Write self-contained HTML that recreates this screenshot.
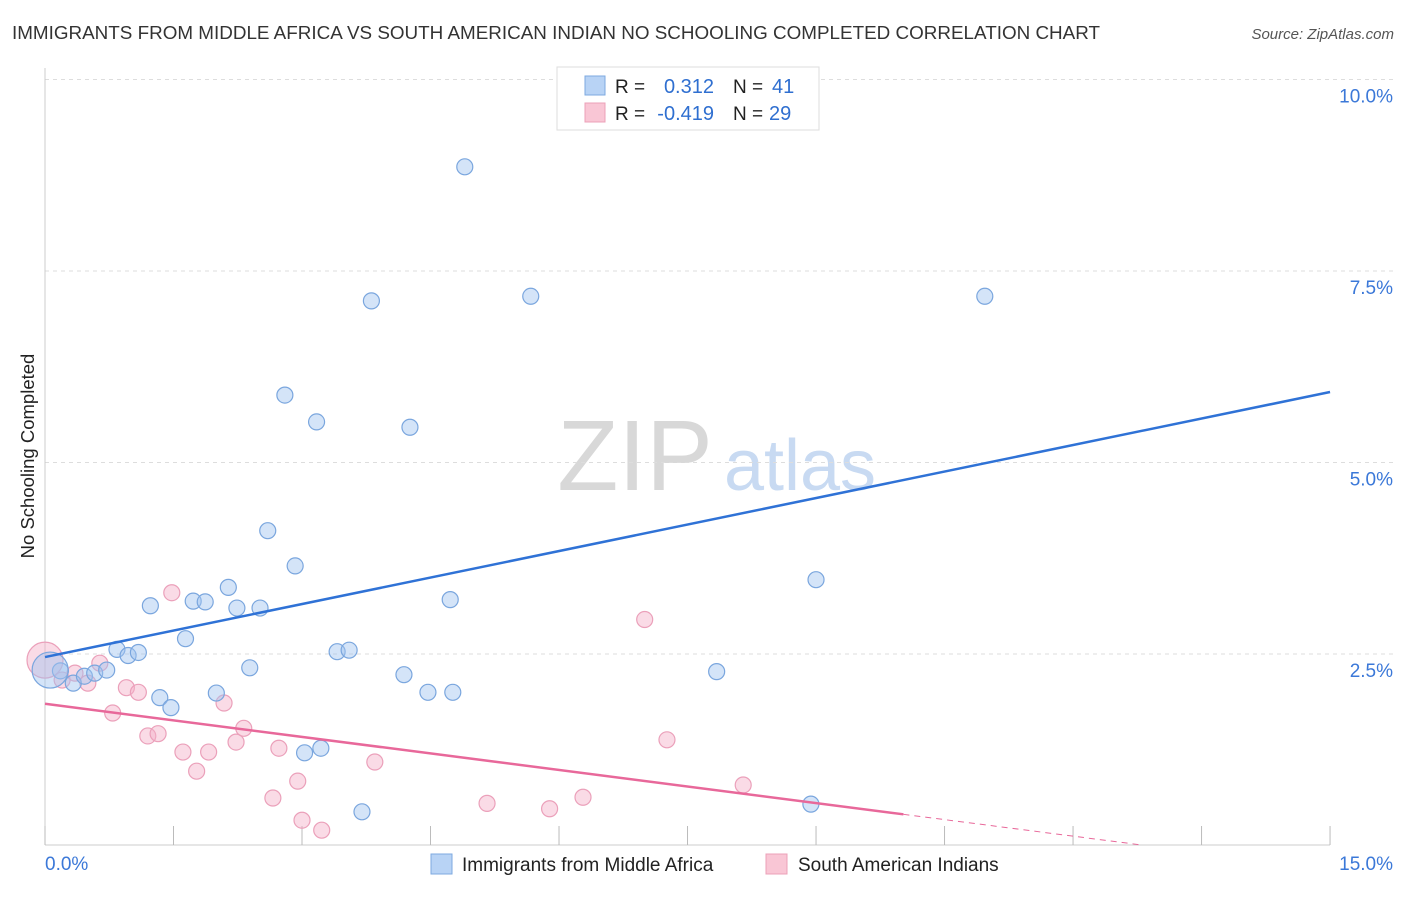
<!DOCTYPE html>
<html><head><meta charset="utf-8"><style>
body{margin:0;background:#fff;font-family:"Liberation Sans",sans-serif;}
svg text{font-family:"Liberation Sans",sans-serif;}
</style></head><body>
<svg id="chart" width="1406" height="892" xmlns="http://www.w3.org/2000/svg">
<text x="12" y="39" font-size="18" fill="#333" textLength="1088" lengthAdjust="spacingAndGlyphs">IMMIGRANTS FROM MIDDLE AFRICA VS SOUTH AMERICAN INDIAN NO SCHOOLING COMPLETED CORRELATION CHART</text>
<text x="1394" y="39" font-size="15" fill="#555" font-style="italic" text-anchor="end">Source: ZipAtlas.com</text>
<text x="34" y="456" font-size="18.5" fill="#222" text-anchor="middle" transform="rotate(-90 34 456)">No Schooling Completed</text>
<g><text x="635" y="490" font-size="100" fill="#d8d8d8" font-family="Liberation Serif" text-anchor="middle">ZIP</text><text x="800" y="490" font-size="72" fill="#c8daf2" text-anchor="middle">atlas</text></g>
<g id="grid"></g><g id="marks"></g>
<g>
<rect x="557" y="67" width="262" height="63" fill="#fff" stroke="#ddd"/>
<rect x="585" y="76" width="20" height="19" fill="#b8d3f5" stroke="#7ea9e0"/>
<rect x="585" y="103" width="20" height="19" fill="#f9c6d5" stroke="#eca0b8"/>
<text x="615" y="93" font-size="19" fill="#222">R =</text><text x="714" y="93" font-size="20" fill="#2f6fd0" text-anchor="end">0.312</text>
<text x="733" y="93" font-size="19" fill="#222">N =</text><text x="772" y="93" font-size="20" fill="#2f6fd0">41</text>
<text x="615" y="120" font-size="19" fill="#222">R =</text><text x="714" y="120" font-size="20" fill="#2f6fd0" text-anchor="end">-0.419</text>
<text x="733" y="120" font-size="19" fill="#222">N =</text><text x="769" y="120" font-size="20" fill="#2f6fd0">29</text>
</g>
<g>
<rect x="431" y="854" width="21" height="20" fill="#b8d3f5" stroke="#7ea9e0"/>
<text x="462" y="871" font-size="19" fill="#222">Immigrants from Middle Africa</text>
<rect x="766" y="854" width="21" height="20" fill="#f9c6d5" stroke="#eca0b8"/>
<text x="798" y="871" font-size="19" fill="#222">South American Indians</text>
</g>
</svg>
<script>
const blueX=[4.90,3.81,5.67,10.97,2.80,3.17,4.26,2.60,2.92,9.00,2.14,1.23,1.73,1.87,2.24,2.51,4.73,1.64,0.84,0.97,1.09,3.41,3.55,2.39,0.18,0.33,0.46,0.58,0.72,4.19,7.84,1.34,1.47,2.00,4.47,4.76,3.22,3.03,3.70,8.94,0.06];
const blueY=[8.86,7.11,7.17,7.17,5.88,5.53,5.46,4.11,3.65,3.47,3.37,3.13,3.19,3.18,3.10,3.10,3.21,2.70,2.56,2.48,2.52,2.53,2.55,2.32,2.28,2.12,2.21,2.25,2.29,2.23,2.27,1.93,1.80,1.99,2.00,2.00,1.27,1.21,0.44,0.54,2.29];
const pinkX=[0,0.2,0.35,0.50,0.64,0.79,0.95,1.09,1.20,1.32,1.48,1.61,1.77,1.91,2.09,2.23,2.32,2.66,2.73,2.95,3.00,3.23,3.85,5.16,5.89,6.28,7.00,7.26,8.15];
const pinkY=[2.42,2.16,2.25,2.12,2.38,1.73,2.06,2.00,1.43,1.46,3.30,1.22,0.97,1.22,1.86,1.35,1.53,0.62,1.27,0.84,0.33,0.20,1.09,0.55,0.48,0.63,2.95,1.38,0.79];
const yTicks=[2.5,5.0,7.5,10.0];
const yTickLabels=["2.5%","5.0%","7.5%","10.0%"];
const blueTrend=[2.46,5.92];
const pinkTrend=[1.85,-0.144];
const NS="http://www.w3.org/2000/svg";
const xs=v=>45+v*85.67, ys=v=>845.5-v*76.6;
const grid=document.getElementById('grid'), marks=document.getElementById('marks');
function mk(tag,attrs,parent){const e=document.createElementNS(NS,tag);for(const k in attrs)e.setAttribute(k,attrs[k]);parent.appendChild(e);return e;}
yTicks.forEach((t,i)=>{
 const l=mk('line',{x1:45,x2:1393,y1:ys(t),y2:ys(t),stroke:'#ddd','stroke-dasharray':'4,4'},grid);
 
 
 const tx=mk('text',{x:1393,y:ys(t)+23,'font-size':19,fill:'#3b78d8','text-anchor':'end'},grid);
 tx.textContent=yTickLabels[i];
 
 
});
const ax=mk('line',{x1:45,x2:45,y1:68,y2:845,stroke:'#ccc'},grid);


const bx=mk('line',{x1:45,x2:1330,y1:845,y2:845,stroke:'#ccc'},grid);


for(let i=0;i<=10;i++){const t=mk('line',{x1:xs(i*1.5),x2:xs(i*1.5),y1:826,y2:845,stroke:'#bbb'},grid);
 
 }
const x0=mk('text',{x:45,y:870,'font-size':19,fill:'#3b78d8'},grid);x0.textContent='0.0%';


const x1=mk('text',{x:1393,y:870,'font-size':19,fill:'#3b78d8','text-anchor':'end'},grid);x1.textContent='15.0%';


pinkX.forEach((x,i)=>{const c=mk('circle',{cx:xs(x),cy:ys(pinkY[i]),r:i===0?18:8,fill:'rgba(245,175,200,0.45)',stroke:'#eba0ba','stroke-width':1.2},marks);
 
 });
blueX.forEach((x,i)=>{const c=mk('circle',{cx:xs(x),cy:ys(blueY[i]),r:i===blueX.length-1?18:8,fill:'rgba(160,195,240,0.45)',stroke:'#7aa6de','stroke-width':1.2},marks);
 
 });
const bl=mk('line',{x1:xs(0),y1:ys(blueTrend[0]),x2:xs(15),y2:ys(blueTrend[1]),stroke:'#2f72d6','stroke-width':2.5},marks);


const pl=mk('line',{x1:xs(0),y1:ys(pinkTrend[0]),x2:xs(10.02),y2:ys(pinkTrend[0]+pinkTrend[1]*10.02),stroke:'#e8689a','stroke-width':2.5},marks);


const pd=mk('line',{x1:xs(10.02),y1:ys(pinkTrend[0]+pinkTrend[1]*10.02),x2:xs(12.8),y2:ys(pinkTrend[0]+pinkTrend[1]*12.8),stroke:'#e8689a','stroke-width':1,'stroke-dasharray':'6,5'},marks);


</script>
</body></html>
